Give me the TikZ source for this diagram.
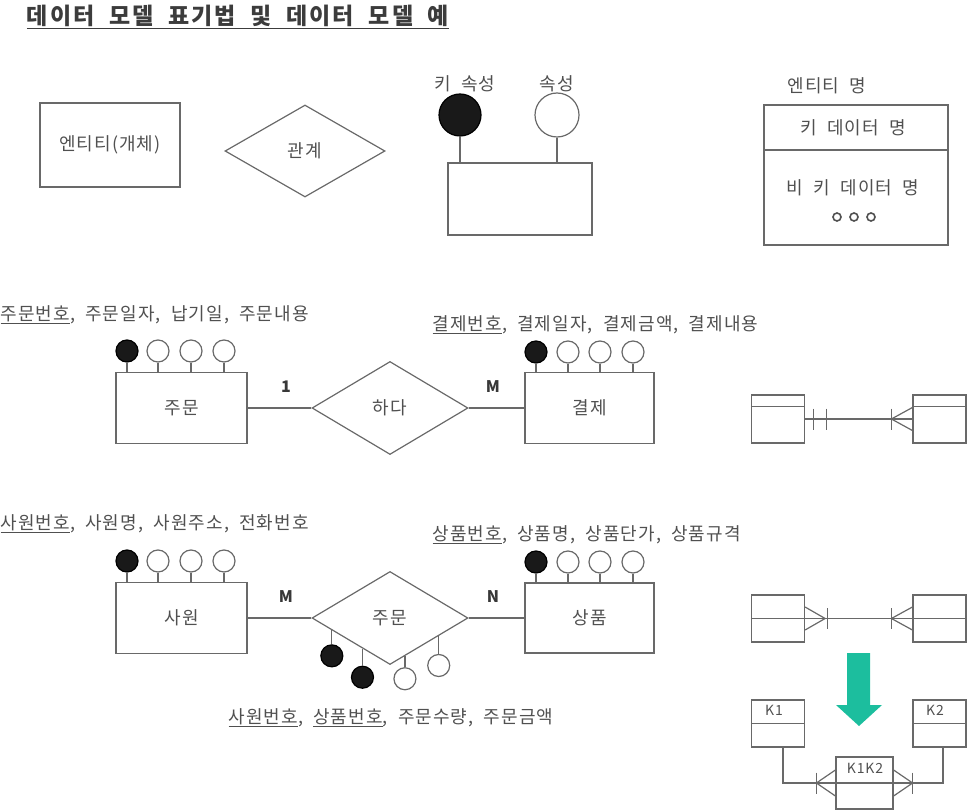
\documentclass[tikz,border=0pt]{standalone}
\usepackage{fontspec}
\setmainfont{Noto Sans CJK KR}[LetterSpace=6,WordSpace=2]
\usetikzlibrary{shapes.geometric, positioning, calc}
\definecolor{lc}{RGB}{105,105,105}
\definecolor{tc}{RGB}{80,80,80}
\definecolor{arrgreen}{RGB}{28,190,158}

\begin{document}
\begin{tikzpicture}[
  x=1pt, y=-1pt, line width=1.2pt,
  font=\fontsize{18}{20}\selectfont, text=tc,
  ent/.style={draw=lc, minimum width=131pt, minimum height=71pt, inner sep=0pt},
  rel/.style={draw=lc, diamond, aspect=1.7, minimum width=156pt, minimum height=93pt, inner sep=0pt},
  pk/.style={circle, draw=black, fill=black!90, minimum size=22pt, inner sep=0pt},
  att/.style={circle, draw=lc, fill=white, minimum size=22pt, inner sep=0pt},
  tbl/.style={draw=lc, minimum width=53pt, minimum height=48pt, inner sep=0pt},
  dotc/.style={circle, draw=tc, line width=1.6pt, minimum size=8pt, inner sep=0pt},
  card/.style={text=tc!70!black, font=\bfseries\fontsize{16}{18}\selectfont},
  attrs/.style={anchor=west, inner sep=0pt},
  small/.style={font=\fontsize{14}{16}\selectfont},
  ln/.style={draw=lc}
]
\useasboundingbox (0,0) rectangle (967,810);

% title
\node[text=tc!75!black, font=\bfseries\fontsize{23}{26}\selectfont\addfontfeature{LetterSpace=9}]
  (title) at (238,17) {\underline{데이터 모델 표기법 및 데이터 모델 예}};

% notation legend
\node[ent, minimum width=140pt, minimum height=84pt] (obj) at (110,145) {엔티티(개체)};
\node[rel, minimum width=160pt, minimum height=92pt] (relx) at (305,151) {관계};

\node[ent, minimum width=144pt, minimum height=72pt] (lgd) at (520,199) {};
\node[pk, minimum size=42pt] (lk) at (460,115) {};
\node[att, minimum size=44pt] (la) at (557,115) {};
\node (lkt) at (465,84) {키 속성};
\node (lat) at (557,84) {속성};
\draw[ln] (lk) -- (lk |- lgd.north);
\draw[ln] (la) -- (la |- lgd.north);

\node (entn) at (827,86) {엔티티 명};
\node[draw=lc, minimum width=184pt, minimum height=140pt, inner sep=0pt] (ebox) at (856,175) {};
\draw[ln] (ebox.west |- 0,150) -- (ebox.east |- 0,150);
\node (kdn) at (853,128) {키 데이터 명};
\node (nkdn) at (853,188) {비 키 데이터 명};
\node[dotc] (d1) at (837,217) {};
\node[dotc] (d2) at (854,217) {};
\node[dotc] (d3) at (871,217) {};

% 주문 - 결제 (1:M)
\node[attrs] (ordt) at (0,315) {\underline{주문번호}, 주문일자, 납기일, 주문내용};
\node[ent] (ord) at (181.5,408) {주문};
\node[pk] (ord1) at (127,351) {};
\node[att] (ord2) at (158,351) {};
\node[att] (ord3) at (191,351) {};
\node[att] (ord4) at (224,351) {};
\draw[ln] (ord1) -- (ord1 |- ord.north);
\draw[ln] (ord2) -- (ord2 |- ord.north);
\draw[ln] (ord3) -- (ord3 |- ord.north);
\draw[ln] (ord4) -- (ord4 |- ord.north);

\node[rel] (rdo) at (390,408) {하다};

\node[attrs] (payt) at (432,325) {\underline{결제번호}, 결제일자, 결제금액, 결제내용};
\node[ent, minimum width=129pt] (pay) at (589.5,408) {결제};
\node[pk] (pay1) at (536,352) {};
\node[att] (pay2) at (568,352) {};
\node[att] (pay3) at (600,352) {};
\node[att] (pay4) at (633,352) {};
\draw[ln] (pay1) -- (pay1 |- pay.north);
\draw[ln] (pay2) -- (pay2 |- pay.north);
\draw[ln] (pay3) -- (pay3 |- pay.north);
\draw[ln] (pay4) -- (pay4 |- pay.north);

\draw[ln] (ord) -- (rdo);
\draw[ln] (rdo) -- (pay);
\node[card] (c1) at (286,387) {1};
\node[card] (cm) at (493,387) {M};

% 사원 - 상품 (M:N)
\node[attrs] (empt) at (0,524) {\underline{사원번호}, 사원명, 사원주소, 전화번호};
\node[ent] (emp) at (181.5,618) {사원};
\node[pk] (emp1) at (127,561) {};
\node[att] (emp2) at (158,561) {};
\node[att] (emp3) at (191,561) {};
\node[att] (emp4) at (224,561) {};
\draw[ln] (emp1) -- (emp1 |- emp.north);
\draw[ln] (emp2) -- (emp2 |- emp.north);
\draw[ln] (emp3) -- (emp3 |- emp.north);
\draw[ln] (emp4) -- (emp4 |- emp.north);

\node[rel] (ordr) at (390,618) {주문};

\node[attrs] (prdt) at (432,535) {\underline{상품번호}, 상품명, 상품단가, 상품규격};
\node[ent, minimum width=129pt, minimum height=70pt] (prd) at (589.5,618) {상품};
\node[pk] (prd1) at (536,562) {};
\node[att] (prd2) at (568,562) {};
\node[att] (prd3) at (600,562) {};
\node[att] (prd4) at (633,562) {};
\draw[ln] (prd1) -- (prd1 |- prd.north);
\draw[ln] (prd2) -- (prd2 |- prd.north);
\draw[ln] (prd3) -- (prd3 |- prd.north);
\draw[ln] (prd4) -- (prd4 |- prd.north);

\draw[ln] (emp) -- (ordr);
\draw[ln] (ordr) -- (prd);
\node[card] (cm2) at (286,597) {M};
\node[card] (cn) at (493,597) {N};

% attributes of the relation
\coordinate (p1) at ($(ordr.west)!0.26!(ordr.south)$);
\coordinate (p2) at ($(ordr.west)!0.65!(ordr.south)$);
\coordinate (p3) at ($(ordr.south)!0.19!(ordr.east)$);
\coordinate (p4) at ($(ordr.south)!0.62!(ordr.east)$);
\node[pk, below=14pt of p1] (oa1) {};
\node[pk, below=17pt of p2] (oa2) {};
\node[att, below=11pt of p3] (oa3) {};
\node[att, below=18pt of p4] (oa4) {};
\draw[ln] (p1) -- (oa1);
\draw[ln] (p2) -- (oa2);
\draw[ln] (p3) -- (oa3);
\draw[ln] (p4) -- (oa4);
\node[attrs] (ordrt) at (228,718) {\underline{사원번호}, \underline{상품번호}, 주문수량, 주문금액};

% crow's foot: 1 to many
\node[tbl] (ta) at (778,419) {};
\node[tbl] (tb) at (939.5,419) {};
\draw[ln] ($(ta.north west)+(0,12)$) -- ($(ta.north east)+(0,12)$);
\draw[ln] ($(tb.north west)+(0,12)$) -- ($(tb.north east)+(0,12)$);
\draw[ln] (ta) -- (tb);
\draw[ln] ($(ta.east)+(8,-10.5)$) -- ++(0,21);
\draw[ln] ($(ta.east)+(21,-10.5)$) -- ++(0,21);
\draw[ln] ($(tb.west)+(0,-11.5)$) -- ($(tb.west)+(-21,0)$) -- ($(tb.west)+(0,11.5)$);
\draw[ln] ($(tb.west)+(-21,-10.5)$) -- ++(0,21);

% crow's foot: many to many
\node[tbl, minimum height=47pt] (ma) at (778,618.5) {};
\node[tbl, minimum height=47pt] (mb) at (939.5,618.5) {};
\draw[ln] (ma.west) -- (ma.east);
\draw[ln] (mb.west) -- (mb.east);
\draw[ln] (ma) -- (mb);
\draw[ln] ($(ma.east)+(0,-11.5)$) -- ($(ma.east)+(20,0)$) -- ($(ma.east)+(0,11.5)$);
\draw[ln] ($(ma.east)+(22,-10.5)$) -- ++(0,21);
\draw[ln] ($(mb.west)+(0,-11.5)$) -- ($(mb.west)+(-21,0)$) -- ($(mb.west)+(0,11.5)$);
\draw[ln] ($(mb.west)+(-21,-10.5)$) -- ++(0,21);

% resolve arrow
\fill[arrgreen] (847,653) -- (870,653) -- (870,705) -- (882,705) -- (859,726)
  -- (836,705) -- (847,705) -- cycle;

% resolved with an intersection entity
\node[tbl, minimum height=47pt] (k1) at (778,723.5) {};
\node[tbl, minimum height=47pt] (k2) at (939.5,723.5) {};
\draw[ln] (k1.west) -- (k1.east);
\draw[ln] (k2.west) -- (k2.east);
\node[small] (k1t) at (774,710) {K1};
\node[small] (k2t) at (935,710) {K2};
\node[draw=lc, minimum width=57pt, minimum height=52pt, inner sep=0pt] (kk) at (864.5,783) {};
\node[small] (kkt) at (865,768) {K1K2};
\draw[ln] (kk.west) -- (kk.east);
\draw[ln] ([xshift=5pt]k1.south) |- (kk.west);
\draw[ln] ([xshift=3.5pt]k2.south) |- (kk.east);
\draw[ln] ($(kk.west)+(0,-13)$) -- ($(kk.west)+(-19,0)$) -- ($(kk.west)+(0,13)$);
\draw[ln] ($(kk.west)+(-19,-10.5)$) -- ++(0,21);
\draw[ln] ($(kk.east)+(0,-13)$) -- ($(kk.east)+(19,0)$) -- ($(kk.east)+(0,13)$);
\draw[ln] ($(kk.east)+(19,-10.5)$) -- ++(0,21);
\end{tikzpicture}
\end{document}
